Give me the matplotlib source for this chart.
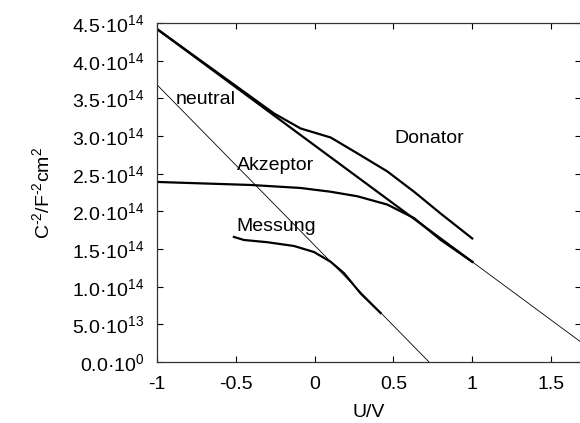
import numpy as np
import matplotlib
matplotlib.use('Agg')
import matplotlib.pyplot as plt
from matplotlib.ticker import FixedLocator, FixedFormatter

plt.rcParams['font.family'] = ['Liberation Sans', 'DejaVu Sans']
plt.rcParams['mathtext.fontset'] = 'custom'
plt.rcParams['mathtext.rm'] = 'Liberation Sans'
plt.rcParams['mathtext.it'] = 'Liberation Sans'
plt.rcParams['mathtext.bf'] = 'Liberation Sans:bold'

# neutral (thick, measured range) and its linear extension
neutral_u = [-1.0, 1.0]
neutral_c = [4.42e14, 1.33e14]
neutral_ext_u = [1.0, 1.69]
neutral_ext_c = [1.33e14, 0.264e14]

# linear fit of Messung
fit_u = [-1.0, 0.726]
fit_c = [3.68e14, 0.0]

donator_u = [-1.0, -0.258, -0.089, 0.102, 0.271, 0.461, 0.631, 0.80, 1.0]
donator_c = [4.42e14, 3.30e14, 3.10e14, 2.98e14, 2.77e14, 2.53e14, 2.26e14, 1.97e14, 1.64e14]

akzeptor_u = [-1.0, -0.406, -0.089, 0.102, 0.271, 0.461, 0.631, 0.80, 1.0]
akzeptor_c = [2.39e14, 2.35e14, 2.31e14, 2.26e14, 2.20e14, 2.09e14, 1.91e14, 1.62e14, 1.33e14]

messung_u = [-0.512, -0.449, -0.30, -0.131, -0.004, 0.102, 0.186, 0.292, 0.419]
messung_c = [1.66e14, 1.62e14, 1.59e14, 1.54e14, 1.46e14, 1.33e14, 1.18e14, 0.91e14, 0.65e14]

y_ticks = [0, 0.5e14, 1.0e14, 1.5e14, 2.0e14, 2.5e14, 3.0e14, 3.5e14, 4.0e14, 4.5e14]
y_labels = ['0.0·10$^{0}$', '5.0·10$^{13}$', '1.0·10$^{14}$', '1.5·10$^{14}$',
            '2.0·10$^{14}$', '2.5·10$^{14}$', '3.0·10$^{14}$', '3.5·10$^{14}$',
            '4.0·10$^{14}$', '4.5·10$^{14}$']
x_ticks = [-1, -0.5, 0, 0.5, 1, 1.5]
x_labels = ['-1', '-0.5', '0', '0.5', '1', '1.5']

fig = plt.figure(figsize=(5.8, 4.23), dpi=100)
ax = fig.add_axes([157 / 580, 1 - 362 / 423, 424 / 580, 339 / 423])

ax.plot(fit_u, fit_c, color='black', lw=0.6)
ax.plot(neutral_ext_u, neutral_ext_c, color='black', lw=0.6)
ax.plot(neutral_u, neutral_c, color='black', lw=1.6)
ax.plot(donator_u, donator_c, color='black', lw=1.6)
ax.plot(akzeptor_u, akzeptor_c, color='black', lw=1.6)
ax.plot(messung_u, messung_c, color='black', lw=1.6)

fs = 14
ax.text(-0.883, 3.49e14, 'neutral', fontsize=fs, va='center', ha='left')
ax.text(0.504, 2.97e14, 'Donator', fontsize=fs, va='center', ha='left')
ax.text(-0.495, 2.61e14, 'Akzeptor', fontsize=fs, va='center', ha='left')
ax.text(-0.495, 1.80e14, 'Messung', fontsize=fs, va='center', ha='left')

ax.set_xlim(-1, 1.69)
ax.set_ylim(0, 4.5e14)
ax.yaxis.set_major_locator(FixedLocator(y_ticks))
ax.yaxis.set_major_formatter(FixedFormatter(y_labels))
ax.xaxis.set_major_locator(FixedLocator(x_ticks))
ax.xaxis.set_major_formatter(FixedFormatter(x_labels))
ax.tick_params(direction='in', length=4, width=0.8, top=True, right=True,
               labelsize=fs)
ax.tick_params(axis='y', pad=9)
ax.tick_params(axis='x', pad=10)
for sp in ax.spines.values():
    sp.set_linewidth(0.9)
    sp.set_color('#333333')

ax.set_xlabel('U/V', fontsize=fs, labelpad=8)
ax.set_ylabel(r'C$^{\text{-}2}$/F$^{\text{-}2}$cm$^{2}$', fontsize=fs, labelpad=14)

fig.savefig('out.png', dpi=100)
